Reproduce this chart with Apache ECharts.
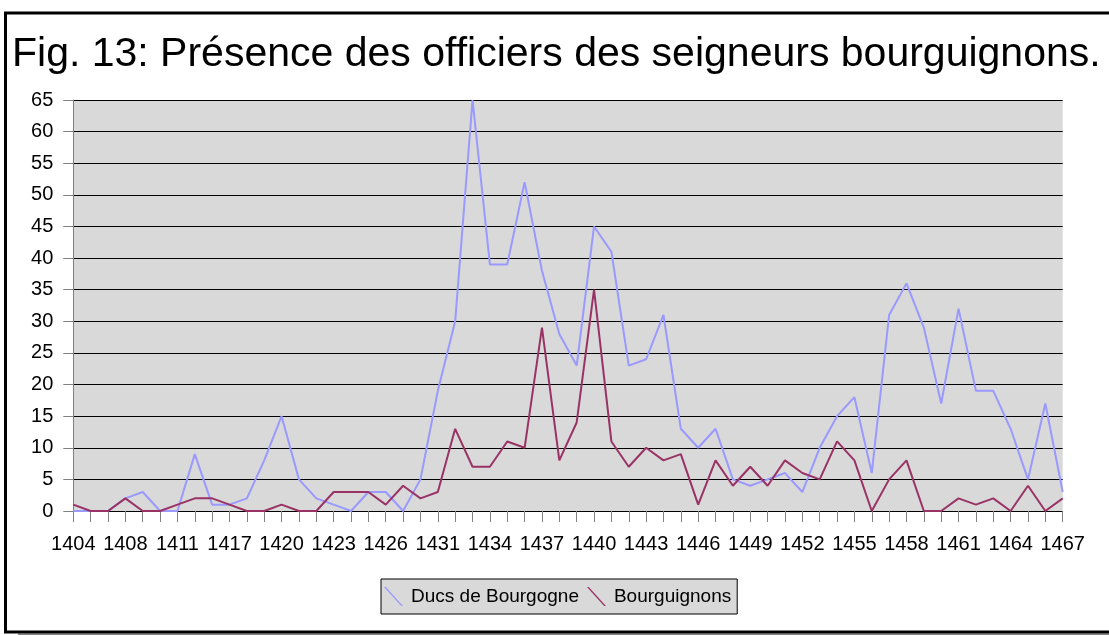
<!DOCTYPE html>
<html>
<head>
<meta charset="utf-8">
<script src="https://cdn.jsdelivr.net/npm/echarts@6/dist/echarts.min.js"></script>
<style>
  html, body { margin: 0; padding: 0; background: #fff; overflow: hidden; }
  #s_chart { width: 1109px; height: 635px; }
</style>
</head>
<body>
<div id="s_chart"></div>
<script>
// categories (years with records), labels show every 3rd one
const years = [
  '1404', '1405', '1407', '1408', '1409', '1410', '1411', '1412', '1415', '1417',
  '1418', '1419', '1420', '1421', '1422', '1423', '1424', '1425', '1426', '1428',
  '1430', '1431', '1432', '1433', '1434', '1435', '1436', '1437', '1438', '1439',
  '1440', '1441', '1442', '1443', '1444', '1445', '1446', '1447', '1448', '1449',
  '1450', '1451', '1452', '1453', '1454', '1455', '1456', '1457', '1458', '1459',
  '1460', '1461', '1462', '1463', '1464', '1465', '1466', '1467'
];
const ducsDeBourgogne = [
  0, 0, 0, 2, 3, 0, 0, 9, 1, 1,
  2, 8, 15, 5, 2, 1, 0, 3, 3, 0,
  5, 19, 30, 65, 39, 39, 52, 38, 28, 23,
  45, 41, 23, 24, 31, 13, 10, 13, 5, 4,
  5, 6, 3, 10, 15, 18, 6, 31, 36, 29,
  17, 32, 19, 19, 13, 5, 17, 3
];
const bourguignons = [
  1, 0, 0, 2, 0, 0, 1, 2, 2, 1,
  0, 0, 1, 0, 0, 3, 3, 3, 1, 4,
  2, 3, 13, 7, 7, 11, 10, 29, 8, 14,
  35, 11, 7, 10, 8, 9, 1, 8, 4, 7,
  4, 8, 6, 5, 11, 8, 0, 5, 8, 0,
  0, 2, 1, 2, 0, 4, 0, 2
];
const seriesNames = ['Ducs de Bourgogne', 'Bourguignons'];
const yTicks = { min: 0, max: 65, interval: 5 };

(
  function (w, d) {
    const font = '"Liberation Sans", Arial, sans-serif';
    const colors = ['#9999ff', '#993366'];

    const chart = w.echarts.init(d.querySelector('#s_chart'), null, { renderer: 'canvas' });

    /* line series */
    function genSeries(name, data, color) {
      return {
        name,
        type: 'line',
        data,
        showSymbol: false,
        symbol: 'none',
        lineStyle: { color, width: 2 },
        itemStyle: { color },
        z: 3
      };
    }

    const option = {
      animation: false,
      backgroundColor: '#fff',
      color: colors,
      textStyle: { fontFamily: font },
      title: {
        text: 'Fig. 13: Présence des officiers des seigneurs bourguignons.',
        left: 12,
        top: 34,
        padding: 0,
        textStyle: { fontFamily: font, fontSize: 41, fontWeight: 'normal', color: '#000' }
      },
      legend: {
        data: seriesNames,
        left: 381,
        top: 579,
        padding: [8, 6, 8, 3],
        itemWidth: 25,
        itemHeight: 19,
        itemGap: 8,
        icon: 'path://M0,0 L1.8,0 L19,19 L17.2,19 Z',
        symbolKeepAspect: true,
        backgroundColor: '#d9d9d9',
        borderColor: '#000',
        borderWidth: 1,
        borderRadius: 0,
        textStyle: { fontFamily: font, fontSize: 19, color: '#000' }
      },
      grid: {
        left: 73.3,
        right: 46.3,
        top: 100,
        bottom: 124,
        show: true,
        backgroundColor: '#d9d9d9',
        borderWidth: 0
      },
      xAxis: {
        type: 'category',
        data: years,
        boundaryGap: false,
        axisLine: { lineStyle: { color: '#000', width: 1 } },
        axisTick: { show: true, interval: 0, length: 11, lineStyle: { color: '#808080' } },
        axisLabel: { interval: 2, margin: 23, fontFamily: font, fontSize: 20, color: '#000' },
        splitLine: { show: false }
      },
      yAxis: {
        type: 'value',
        min: yTicks.min,
        max: yTicks.max,
        interval: yTicks.interval,
        axisLine: { show: true, lineStyle: { color: '#808080', width: 1 } },
        axisTick: { show: true, length: 10, lineStyle: { color: '#808080' } },
        axisLabel: { margin: 20, fontFamily: font, fontSize: 20, color: '#000' },
        splitLine: { show: true, lineStyle: { color: '#000', width: 1 } }
      },
      series: [
        genSeries(seriesNames[0], ducsDeBourgogne, colors[0]),
        genSeries(seriesNames[1], bourguignons, colors[1])
      ],
      graphic: [
        { // frame round the chart
          type: 'rect',
          silent: true,
          z: 100,
          shape: { x: 5.5, y: 13, width: 1150, height: 619 },
          style: { fill: 'none', stroke: '#000', lineWidth: 3 }
        },
        { // small shadow under the frame
          type: 'line',
          silent: true,
          z: 99,
          shape: { x1: 18, y1: 634.5, x2: 1150, y2: 634.5 },
          style: { stroke: '#808080', lineWidth: 2 }
        }
      ]
    };

    chart.setOption(option);
  }
)(window, document);
</script>
</body>
</html>
